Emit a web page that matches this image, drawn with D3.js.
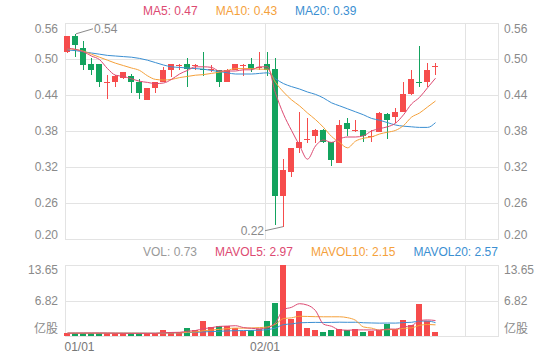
<!DOCTYPE html>
<html>
<head>
<meta charset="utf-8">
<script src="https://cdn.jsdelivr.net/npm/d3@7"></script>
<style>
    html, body { margin: 0; padding: 0; background: #fff; }
    svg text { font-family: "Liberation Sans", Arial, "Noto Sans CJK SC", sans-serif; font-size: 12px; }
</style>
</head>
<body>
<div id="chart"></div>
<script>
// K线数据 (按交易日)
const opens  = [0.512,0.538,0.518,0.491,0.491,0.460,0.462,0.468,0.472,0.462,0.432,0.452,0.462,0.482,0.489,0.491,0.489,0.483,0.482,0.482,0.462,0.482,0.489,0.491,0.485,0.491,0.483,0.271,0.312,0.351,0.366,0.372,0.382,0.362,0.326,0.393,0.381,0.382,0.371,0.379,0.409,0.403,0.412,0.442,0.461,0.462,0.487];
const closes = [0.538,0.523,0.490,0.482,0.462,0.461,0.472,0.478,0.462,0.443,0.451,0.461,0.482,0.491,0.490,0.483,0.490,0.483,0.483,0.462,0.482,0.491,0.490,0.483,0.487,0.482,0.272,0.315,0.351,0.362,0.367,0.382,0.362,0.332,0.390,0.383,0.382,0.372,0.372,0.410,0.398,0.412,0.442,0.466,0.461,0.482,0.488];
const highs  = [0.539,0.542,0.530,0.501,0.491,0.473,0.473,0.479,0.475,0.466,0.451,0.462,0.486,0.492,0.491,0.501,0.491,0.511,0.490,0.482,0.483,0.491,0.491,0.501,0.511,0.511,0.501,0.334,0.352,0.412,0.401,0.383,0.383,0.362,0.398,0.401,0.399,0.382,0.382,0.412,0.410,0.418,0.462,0.482,0.522,0.493,0.493];
const lows   = [0.510,0.504,0.482,0.474,0.453,0.433,0.453,0.467,0.443,0.433,0.431,0.443,0.461,0.470,0.482,0.453,0.482,0.472,0.479,0.453,0.461,0.481,0.472,0.479,0.482,0.472,0.223,0.2205,0.304,0.343,0.360,0.360,0.360,0.322,0.326,0.372,0.378,0.362,0.362,0.378,0.366,0.393,0.412,0.440,0.453,0.453,0.473];
const volumes = [0.55,0.6,0.6,0.55,0.55,0.5,0.5,0.5,0.5,0.55,0.5,0.5,1.1,0.75,0.7,1.6,1.15,2.8,1.8,1.9,1.9,1.5,1.0,1.1,1.4,2.9,6.4,13.65,3.2,4.9,1.5,1.1,0.77,1.1,1.4,1.2,1.4,0.8,1.0,1.2,2.3,1.3,3.0,2.05,6.2,2.9,0.73];

// 均线
const ma5  = [0.518,0.516,0.512,0.505,0.499,0.484,0.473,0.471,0.467,0.463,0.461,0.459,0.460,0.466,0.475,0.481,0.487,0.487,0.486,0.480,0.480,0.480,0.482,0.482,0.487,0.487,0.443,0.408,0.381,0.356,0.333,0.355,0.365,0.361,0.367,0.370,0.370,0.372,0.380,0.384,0.387,0.393,0.407,0.425,0.436,0.452,0.468];
const ma10 = [0.517,0.516,0.513,0.508,0.503,0.498,0.493,0.489,0.485,0.481,0.472,0.466,0.465,0.466,0.469,0.471,0.473,0.474,0.476,0.478,0.481,0.484,0.484,0.484,0.483,0.483,0.461,0.445,0.432,0.422,0.410,0.399,0.386,0.371,0.361,0.352,0.363,0.368,0.370,0.375,0.378,0.381,0.389,0.403,0.410,0.420,0.430];
const ma20 = [0.515,0.514,0.512,0.510,0.508,0.506,0.505,0.504,0.503,0.501,0.498,0.494,0.490,0.487,0.486,0.485,0.484,0.483,0.481,0.479,0.477,0.475,0.475,0.475,0.476,0.477,0.467,0.459,0.454,0.450,0.445,0.441,0.435,0.427,0.422,0.417,0.412,0.407,0.401,0.398,0.394,0.390,0.388,0.387,0.386,0.386,0.394];
const mavol5  = [0.55,0.56,0.57,0.57,0.57,0.56,0.54,0.52,0.51,0.51,0.51,0.51,0.63,0.68,0.71,0.93,1.06,1.40,1.61,1.85,1.91,1.98,1.62,1.48,1.38,1.58,2.56,5.09,5.51,6.21,5.93,4.87,2.29,1.87,1.17,1.11,1.17,1.18,1.16,1.12,1.34,1.32,1.76,1.97,2.97,3.09,2.97];
const mavol10 = [0.55,0.55,0.55,0.55,0.55,0.55,0.55,0.55,0.55,0.54,0.535,0.525,0.575,0.595,0.61,0.72,0.785,1.015,1.145,1.28,1.42,1.52,1.51,1.545,1.615,1.745,2.27,3.355,3.495,3.795,3.755,3.715,3.692,3.692,3.692,3.522,3.022,1.737,1.517,1.147,1.227,1.247,1.47,1.565,2.045,2.215,2.15];
const mavol20 = [0.55,0.55,0.56,0.56,0.56,0.55,0.55,0.55,0.55,0.55,0.54,0.54,0.57,0.59,0.61,0.66,0.70,0.80,0.85,0.91,0.978,1.023,1.043,1.07,1.113,1.233,1.528,2.185,2.32,2.538,2.588,2.618,2.601,2.619,2.654,2.634,2.646,2.546,2.506,2.471,2.491,2.481,2.581,2.629,2.869,2.869,2.57];

// 坐标轴刻度
const priceTicks = [0.56, 0.50, 0.44, 0.38, 0.32, 0.26, 0.20];
const volTicks = [13.65, 6.82, 0];
const volTickLabels = ["13.65", "6.82", "亿股"];
const monthTicks = [0, 25, 50];
const monthLabels = ["01/01", "02/01", ""];

const RED = "#f64c4c", GREEN = "#13a35e";
const C5 = "#dd4a72", C10 = "#f5a13b", C20 = "#3b8fd2";

function drawChart() {
    const width = 560, height = 360;
    const left = 64.5, right = 498.5;

    const svg = d3.select("#chart").append("svg")
        .attr("width", width)
        .attr("height", height);

    const n = closes.length;
    const x = d3.scaleLinear().domain([-0.5, 53.9]).range([63, 498.2]);
    const y = d3.scaleLinear().domain([0.20, 0.56]).range([239, 23]);
    const yv = d3.scaleLinear().domain([0, 13.65]).range([336, 265]);

    const grid = svg.append("g").attr("stroke", "#e3e3e3").attr("shape-rendering", "crispEdges");

    // 横向网格
    priceTicks.forEach(t => {
        grid.append("line").attr("x1", left).attr("x2", right)
            .attr("y1", Math.round(y(t)) + 0.5).attr("y2", Math.round(y(t)) + 0.5);
    });
    volTicks.forEach(t => {
        grid.append("line").attr("x1", left).attr("x2", right)
            .attr("y1", Math.round(yv(t)) + 0.5).attr("y2", Math.round(yv(t)) + 0.5);
    });
    // 纵向网格（月份分隔）+ 右边框
    const vx = monthTicks.map(i => Math.round(x(i) - 2.5) + 0.5).concat([right]);
    vx.forEach(px => {
        grid.append("line").attr("x1", px).attr("x2", px).attr("y1", y(0.56)).attr("y2", y(0.20) + 0.5);
        grid.append("line").attr("x1", px).attr("x2", px).attr("y1", yv(13.65)).attr("y2", yv(0) + 0.5);
    });

    // 价格轴标签
    const labelColor = "#8a8a8a";
    priceTicks.forEach((t, k) => {
        const shift = k === 0 ? 6 : (k === priceTicks.length - 1 ? -4 : 0);
        const ty = y(t) + shift;
        svg.append("text").attr("x", 58).attr("y", ty).attr("dy", "0.35em")
            .attr("text-anchor", "end").attr("fill", labelColor).text(t.toFixed(2));
        svg.append("text").attr("x", 504).attr("y", ty).attr("dy", "0.35em")
            .attr("fill", labelColor).text(t.toFixed(2));
    });
    volTicks.forEach((t, k) => {
        const shift = k === 0 ? 5 : (k === volTicks.length - 1 ? -7 : 0);
        const ty = yv(t) + shift;
        svg.append("text").attr("x", 58).attr("y", ty).attr("dy", "0.35em")
            .attr("text-anchor", "end").attr("fill", labelColor).text(volTickLabels[k]);
        svg.append("text").attr("x", 504).attr("y", ty).attr("dy", "0.35em")
            .attr("fill", labelColor).text(volTickLabels[k]);
    });
    // 日期标签
    monthTicks.forEach((i, k) => {
        if (!monthLabels[k]) return;
        svg.append("text")
            .attr("x", k === 0 ? left : x(i) - 2)
            .attr("y", 347).attr("dy", "0.35em")
            .attr("text-anchor", k === 0 ? "start" : "middle")
            .attr("fill", "#777").text(monthLabels[k]);
    });

    const idx = d3.range(n);
    const bw = 6;

    // K线
    const candle = svg.append("g").attr("shape-rendering", "crispEdges");
    const candleColor = i => closes[i] > opens[i] ? RED : GREEN;
    candle.selectAll("line.wick").data(idx).enter().append("line")
        .attr("x1", i => x(i) + 0.5).attr("x2", i => x(i) + 0.5)
        .attr("y1", i => y(highs[i])).attr("y2", i => y(lows[i]))
        .attr("stroke", candleColor);
    candle.selectAll("rect.body").data(idx).enter().append("rect")
        .attr("x", i => x(i) - bw / 2)
        .attr("width", bw)
        .attr("y", i => y(Math.max(opens[i], closes[i])))
        .attr("height", i => Math.max(1, Math.abs(y(opens[i]) - y(closes[i]))))
        .attr("fill", candleColor);

    // 均线
    const addLine = (g, vals, scale, color) => {
        g.append("path").datum(vals)
            .attr("fill", "none").attr("stroke", color).attr("stroke-width", 1)
            .attr("d", d3.line().x((d, i) => x(i) + 0.5).y(d => scale(d)).curve(d3.curveMonotoneX));
    };
    const maG = svg.append("g");
    addLine(maG, ma20, y, C20);
    addLine(maG, ma10, y, C10);
    addLine(maG, ma5, y, C5);

    // 最高、最低价标注
    const hiIdx = d3.maxIndex(highs), loIdx = d3.minIndex(lows);
    const ann = svg.append("g").attr("fill", "#8a8a8a");
    const hx = x(hiIdx) + 1, hy = y(highs[hiIdx]);
    ann.append("polyline").attr("points", `${hx},${hy} ${hx + 17},${hy - 5}`)
        .attr("stroke", "#8a8a8a").attr("fill", "none");
    ann.append("text").attr("x", hx + 18).attr("y", hy - 5).attr("dy", "0.35em")
        .text(highs[hiIdx].toFixed(2));
    const lx = x(loIdx), ly = y(lows[loIdx]);
    ann.append("polyline").attr("points", `${lx},${ly} ${lx - 18},${ly + 4}`)
        .attr("stroke", "#8a8a8a").attr("fill", "none");
    ann.append("text").attr("x", lx - 19).attr("y", ly + 4).attr("dy", "0.35em")
        .attr("text-anchor", "end").text(lows[loIdx].toFixed(2));

    // 成交量
    const volColor = i => closes[i] >= opens[i] ? RED : GREEN;
    svg.append("g").attr("shape-rendering", "crispEdges")
        .selectAll("rect").data(idx).enter().append("rect")
        .attr("x", i => x(i) - bw / 2)
        .attr("width", bw)
        .attr("y", i => yv(volumes[i]))
        .attr("height", i => yv(0) - yv(volumes[i]))
        .attr("fill", volColor);
    const mvG = svg.append("g");
    addLine(mvG, mavol20, yv, C20);
    addLine(mvG, mavol10, yv, C10);
    addLine(mvG, mavol5, yv, C5);

    // 图例
    const last = n - 1;
    function legend(items, ly) {
        let lx = 143;
        items.forEach(it => {
            const t = svg.append("text").attr("x", lx).attr("y", ly).attr("dy", "0.35em")
                .attr("fill", it.color).text(it.text);
            lx += t.node().getComputedTextLength() + 18;
        });
    }
    legend([
        { text: "MA5: " + ma5[last].toFixed(2), color: C5 },
        { text: "MA10: " + ma10[last].toFixed(2), color: C10 },
        { text: "MA20: " + ma20[last].toFixed(2), color: C20 }
    ], 11);
    legend([
        { text: "VOL: " + volumes[last].toFixed(2), color: "#999" },
        { text: "MAVOL5: " + mavol5[last].toFixed(2), color: C5 },
        { text: "MAVOL10: " + mavol10[last].toFixed(2), color: C10 },
        { text: "MAVOL20: " + mavol20[last].toFixed(2), color: C20 }
    ], 251.5);
}

drawChart();
</script>
</body>
</html>
